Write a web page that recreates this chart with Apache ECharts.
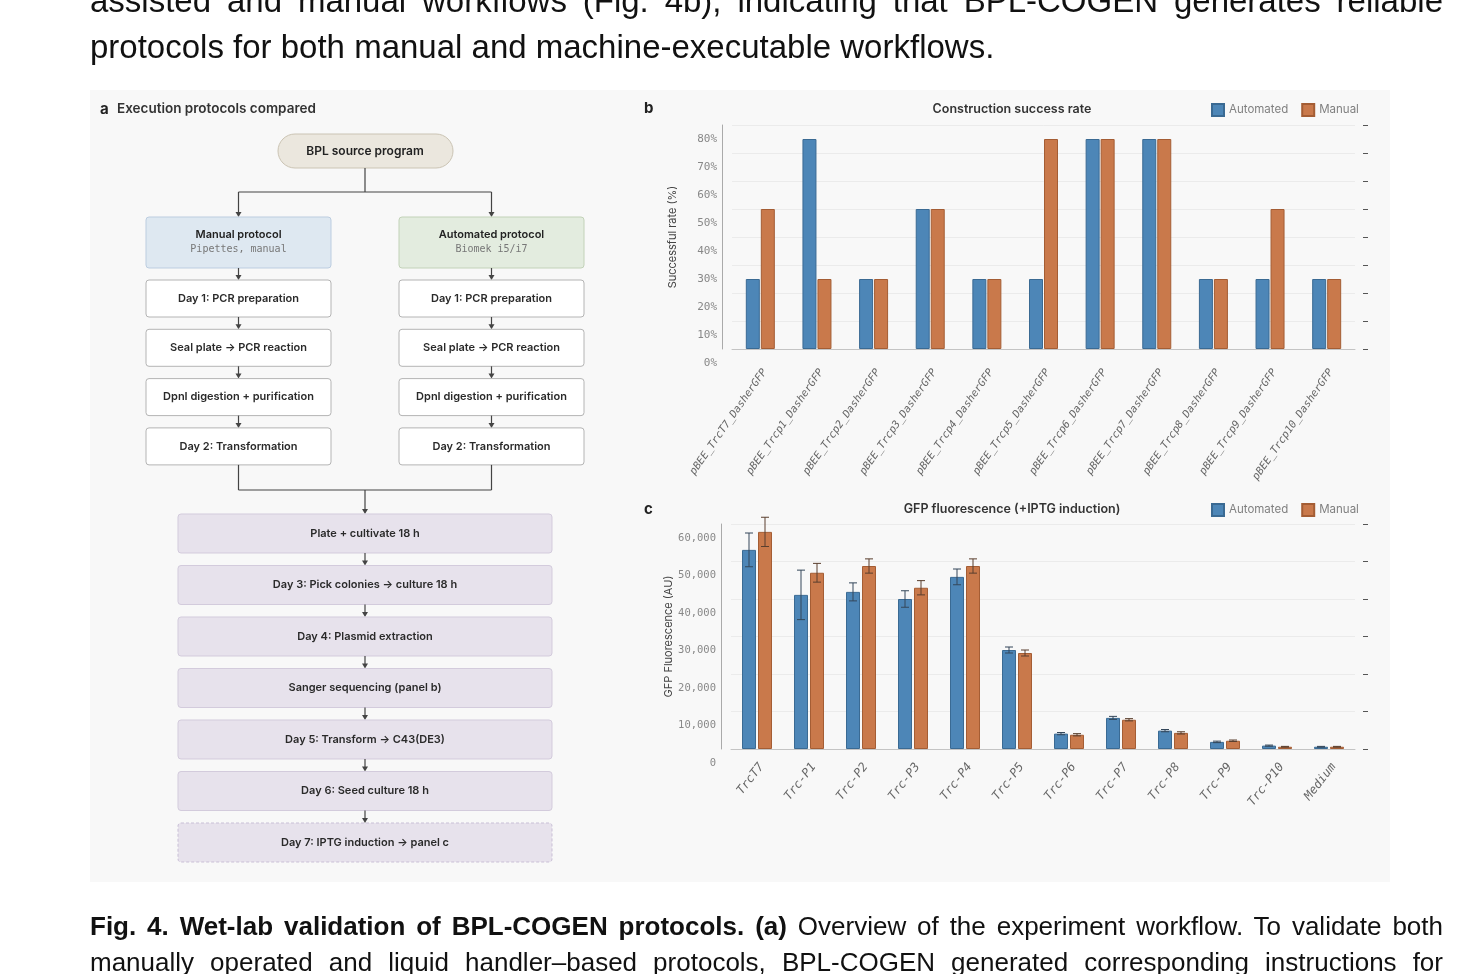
<!DOCTYPE html>
<html>
<head>
<meta charset="utf-8">
<script src="https://cdn.jsdelivr.net/npm/echarts@6/dist/echarts.min.js"></script>
<style>
  html, body { margin: 0; padding: 0; background: #fff; }
  body { width: 1479px; height: 974px; position: relative; overflow: hidden;
         font-family: "Liberation Sans", Arial, sans-serif; color: #111; }
  #chart { position: absolute; left: 0; top: 0; width: 1479px; height: 974px; }
  .line { position: absolute; left: 90px; width: 1353px; white-space: nowrap; }
  .just { text-align: justify; text-align-last: justify; white-space: normal; }
  .body { font-size: 33px; line-height: 46px; }
  .cap { font-size: 26px; line-height: 36px; }
</style>
</head>
<body>
<div id="chart"></div>
<div class="line body just" style="top:-22px">assisted and manual workflows (Fig. 4b), indicating that BPL-COGEN generates reliable</div>
<div class="line body" style="top:24px">protocols for both manual and machine-executable workflows.</div>
<div class="line cap just" style="top:908px"><b>Fig. 4. Wet-lab validation of BPL-COGEN protocols. (a)</b> Overview of the experiment workflow. To validate both</div>
<div class="line cap just" style="top:944px">manually operated and liquid handler–based protocols, BPL-COGEN generated corresponding instructions for</div>

<script>
// panel a: flowchart text
const manualHeader = ['Manual protocol', 'Pipettes, manual']
const autoHeader = ['Automated protocol', 'Biomek i5/i7']
const branchSteps = ['Day 1: PCR preparation', 'Seal plate → PCR reaction', 'DpnI digestion + purification', 'Day 2: Transformation']
const sharedSteps = ['Plate + cultivate 18 h', 'Day 3: Pick colonies → culture 18 h', 'Day 4: Plasmid extraction',
  'Sanger sequencing (panel b)', 'Day 5: Transform → C43(DE3)', 'Day 6: Seed culture 18 h', 'Day 7: IPTG induction → panel c']

// panel b: construction success rate (%)
const constructs = ['pBEE_TrcT7_DasherGFP', 'pBEE_Trcp1_DasherGFP', 'pBEE_Trcp2_DasherGFP', 'pBEE_Trcp3_DasherGFP',
  'pBEE_Trcp4_DasherGFP', 'pBEE_Trcp5_DasherGFP', 'pBEE_Trcp6_DasherGFP', 'pBEE_Trcp7_DasherGFP',
  'pBEE_Trcp8_DasherGFP', 'pBEE_Trcp9_DasherGFP', 'pBEE_Trcp10_DasherGFP']
const rateAuto = [25, 75, 25, 50, 25, 25, 75, 75, 25, 25, 25]
const rateManual = [50, 25, 25, 50, 25, 75, 75, 75, 25, 50, 25]

// panel c: GFP fluorescence (AU), mean and error
const promoters = ['TrcT7', 'Trc-P1', 'Trc-P2', 'Trc-P3', 'Trc-P4', 'Trc-P5', 'Trc-P6', 'Trc-P7', 'Trc-P8', 'Trc-P9', 'Trc-P10', 'Medium']
const gfpAuto = [53100, 41100, 41900, 40000, 45900, 26400, 4100, 8300, 4900, 1900, 900, 600]
const gfpAutoErr = [4500, 6600, 2400, 2200, 2100, 800, 300, 400, 300, 200, 150, 100]
const gfpManual = [57900, 47000, 48800, 43000, 48800, 25600, 3800, 7800, 4300, 2200, 600, 600]
const gfpManualErr = [3900, 2500, 1900, 1900, 1900, 800, 300, 300, 300, 200, 100, 100]

const sans = 'Inter, "Noto Sans", sans-serif'
const mono = '"DejaVu Sans Mono", monospace'
const blue = '#4d86b7', blueEdge = '#3a6a93'
const orange = '#c9794b', orangeEdge = '#a45d34'

// ---- flowchart graphic ----
const G = []
const ink = '#444'
function rect(x, y, w, h, fill, stroke, r, dash) {
  G.push({ type: 'rect', silent: true, shape: { x, y, width: w, height: h, r: r },
    style: { fill, stroke, lineWidth: 1, lineDash: dash || null } })
}
function text(x, y, t, font, fill, align) {
  G.push({ type: 'text', silent: true,
    style: { x, y, text: t, font, fill, align: align || 'center', verticalAlign: 'middle' } })
}
function seg(x1, y1, x2, y2) {
  G.push({ type: 'line', silent: true, shape: { x1, y1, x2, y2 }, style: { stroke: ink, lineWidth: 1.2 } })
}
function arrow(x, y1, y2) {
  seg(x, y1, x, y2 - 4)
  G.push({ type: 'polygon', silent: true, shape: { points: [[x - 3, y2 - 5], [x + 3, y2 - 5], [x, y2]] },
    style: { fill: ink } })
}

G.push({ type: 'rect', silent: true, z: -10, shape: { x: 90, y: 90, width: 1300, height: 792 }, style: { fill: '#f8f8f8' } })
text(100, 109, 'a', 'bold 15px ' + sans, '#222', 'left')
text(117, 109, 'Execution protocols compared', '600 13.5px ' + sans, '#333', 'left')

const cx = 365, colL = 146, colR = 399, colW = 185
rect(278, 134, 175, 34, '#ebe7de', '#cbc4b4', 17)
text(cx, 151, 'BPL source program', '600 12px ' + sans, '#222')
seg(cx, 168, cx, 192)
seg(colL + colW / 2, 192, colR + colW / 2, 192)

const headers = [[colL, manualHeader, '#dee8f1', '#bccde0'], [colR, autoHeader, '#e3ecdf', '#c2d2b8']]
headers.forEach(([x, hdr, fill, stroke]) => {
  const mx = x + colW / 2
  arrow(mx, 192, 217)
  rect(x, 217, colW, 51, fill, stroke, 3)
  text(mx, 235, hdr[0], '600 11px ' + sans, '#222')
  text(mx, 249, hdr[1], '10px ' + mono, '#777')
  let prev = 268
  branchSteps.forEach((s, i) => {
    const y = 280 + i * 49.3
    arrow(mx, prev, y)
    rect(x, y, colW, 37, '#fff', '#b4b4b4', 3)
    text(mx, y + 18.5, s, '600 11px ' + sans, '#2a2a2a')
    prev = y + 37
  })
  seg(mx, prev, mx, 490)
})
seg(colL + colW / 2, 490, colR + colW / 2, 490)

let prevS = 490
sharedSteps.forEach((s, i) => {
  const y = 514 + i * 51.5
  arrow(cx, prevS, y)
  const last = i === sharedSteps.length - 1
  rect(178, y, 374, 39, '#e7e2ec', last ? '#c9bfd6' : '#d3cbdc', 3, last ? [3, 2] : null)
  text(cx, y + 19.5, s, '600 11px ' + sans, '#2a2a2a')
  prevS = y + 39
})

// panel titles
text(644, 108, 'b', 'bold 15px ' + sans, '#222', 'left')
text(1012, 109, 'Construction success rate', '600 12.5px ' + sans, '#333')
text(644, 509, 'c', 'bold 15px ' + sans, '#222', 'left')
text(1012, 509, 'GFP fluorescence (+IPTG induction)', '600 12.5px ' + sans, '#333')

// ---- charts ----
const BAR_W = 14
const GAP_B = 1, GAP_C = 2

function leftAxis(grid, max, interval, name, fmt, size) {
  return {
    gridIndex: grid, type: 'value', min: 0, max, interval, offset: 10,
    axisLine: { show: true, lineStyle: { color: '#aaa' } }, axisTick: { show: false },
    splitLine: { lineStyle: { color: '#ebebeb' } },
    // labels sit a little under their grid line, as in the source figure
    axisLabel: { formatter: fmt, fontFamily: mono, fontSize: size, color: '#888',
      verticalAlign: 'top', lineHeight: 28, margin: 5 },
    name, nameLocation: 'middle', nameGap: 44, nameTextStyle: { fontFamily: sans, fontSize: 11, color: '#444' }
  }
}
function rightTicks(grid, max, interval) {
  return {
    gridIndex: grid, type: 'value', position: 'right', min: 0, max, interval, offset: 8,
    axisLine: { show: false }, axisTick: { show: true, length: 5, lineStyle: { color: '#555' } },
    axisLabel: { show: false }, splitLine: { show: false }
  }
}
function catAxis(grid, data, rotate, size, margin) {
  return {
    gridIndex: grid, type: 'category', data,
    axisLine: { lineStyle: { color: '#c4c4c4' } },
    axisTick: { alignWithLabel: true, length: 5, lineStyle: { color: '#555' } },
    axisLabel: { interval: 0, rotate, margin, verticalAlign: 'top', fontFamily: mono, fontStyle: 'italic',
      fontSize: size, color: '#666' }
  }
}
function errSeries(means, errs, shift, color) {
  return {
    type: 'custom', xAxisIndex: 1, yAxisIndex: 2, z: 5, silent: true,
    data: means.map((v, i) => [i, v, errs[i]]),
    renderItem(params, api) {
      const i = api.value(0), v = api.value(1), e = api.value(2)
      const hi = api.coord([i, v + e]), lo = api.coord([i, v - e])
      const x = hi[0] + shift, c = 4
      const st = { stroke: color, lineWidth: 1 }
      return { type: 'group', children: [
        { type: 'line', shape: { x1: x, y1: hi[1], x2: x, y2: lo[1] }, style: st },
        { type: 'line', shape: { x1: x - c, y1: hi[1], x2: x + c, y2: hi[1] }, style: st },
        { type: 'line', shape: { x1: x - c, y1: lo[1], x2: x + c, y2: lo[1] }, style: st }
      ] }
    }
  }
}
const legendBase = {
  left: 1206, itemWidth: 12, itemHeight: 12, itemGap: 13, icon: 'rect',
  textStyle: { fontFamily: sans, fontSize: 11.5, color: '#808080' }, data: ['Automated', 'Manual']
}

const chart = echarts.init(document.getElementById('chart'))
chart.setOption({
  animation: false,
  textStyle: { fontFamily: sans },
  graphic: { elements: G },
  legend: [Object.assign({ top: 98 }, legendBase), Object.assign({ top: 498 }, legendBase)],
  grid: [
    { left: 732, right: 124, top: 125, height: 224, outerBoundsMode: 'none' },
    { left: 731, right: 124, top: 524, height: 225, outerBoundsMode: 'none' }
  ],
  xAxis: [catAxis(0, constructs, 55, 10.5, 18), catAxis(1, promoters, 52, 12, 12)],
  yAxis: [
    leftAxis(0, 80, 10, 'Successful rate (%)', '{value}%', 11),
    rightTicks(0, 80, 10),
    leftAxis(1, 60000, 10000, 'GFP Fluorescence (AU)', v => v.toLocaleString('en-US'), 10.5),
    rightTicks(1, 60000, 10000)
  ],
  series: [
    { type: 'bar', name: 'Automated', xAxisIndex: 0, yAxisIndex: 0, data: rateAuto, barWidth: BAR_W,
      barGap: (GAP_B / BAR_W * 100) + '%', itemStyle: { color: blue, borderColor: blueEdge, borderWidth: 1 } },
    { type: 'bar', name: 'Manual', xAxisIndex: 0, yAxisIndex: 0, data: rateManual, barWidth: BAR_W,
      itemStyle: { color: orange, borderColor: orangeEdge, borderWidth: 1 } },
    { type: 'bar', name: 'Automated', xAxisIndex: 1, yAxisIndex: 2, data: gfpAuto, barWidth: BAR_W,
      barGap: (GAP_C / BAR_W * 100) + '%', itemStyle: { color: blue, borderColor: blueEdge, borderWidth: 1 } },
    { type: 'bar', name: 'Manual', xAxisIndex: 1, yAxisIndex: 2, data: gfpManual, barWidth: BAR_W,
      itemStyle: { color: orange, borderColor: orangeEdge, borderWidth: 1 } },
    errSeries(gfpAuto, gfpAutoErr, -(BAR_W + GAP_C) / 2, '#34475a'),
    errSeries(gfpManual, gfpManualErr, (BAR_W + GAP_C) / 2, '#5a3f2e')
  ]
})
</script>
</body>
</html>
